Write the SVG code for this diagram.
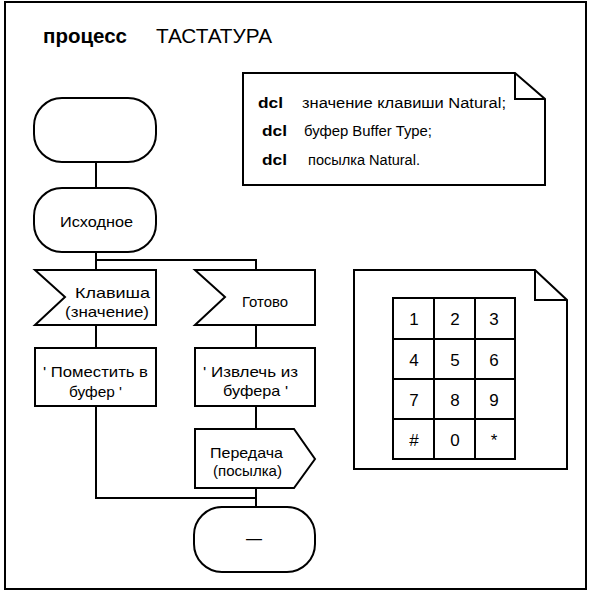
<svg xmlns="http://www.w3.org/2000/svg" width="591" height="593" viewBox="0 0 591 593">
<style>
.s{fill:#fff;stroke:#000;stroke-width:2;stroke-linejoin:miter}
.l{fill:none;stroke:#000;stroke-width:2}
text{font-family:"Liberation Sans",Arial,sans-serif;fill:#000}
.t{font-size:15px}
.d{font-size:14px}
.b{font-weight:bold}
.k{font-size:17px;text-anchor:middle}
</style>
<rect x="0" y="0" width="591" height="593" fill="#fff"/>
<rect x="5" y="2" width="581" height="587" class="l"/>
<g id="title">
<text x="43" y="43" font-size="20" font-weight="bold" textLength="84" lengthAdjust="spacingAndGlyphs">процесс</text>
<text x="156" y="43" font-size="20" textLength="116" lengthAdjust="spacingAndGlyphs">ТАСТАТУРА</text>
</g>
<g id="connectors">
<path class="l" d="M96,162 V188"/>
<path class="l" d="M96,252 V270 M96,260 H256 V270"/>
<path class="l" d="M96,325 V348"/>
<path class="l" d="M256,325 V348"/>
<path class="l" d="M96,406 V498 H256"/>
<path class="l" d="M256,406 V429"/>
<path class="l" d="M256,488 V507"/>
</g>
<g id="decl">
<path class="s" d="M243,73 H515 L545,99 V185 H243 Z"/>
<path class="l" d="M515,73 V99 H545"/>
<text class="d b" x="258" y="108" textLength="25" lengthAdjust="spacingAndGlyphs">dcl</text>
<text class="d" x="302" y="108" textLength="204" lengthAdjust="spacingAndGlyphs">значение клавиши Natural;</text>
<text class="d b" x="262" y="136" textLength="25" lengthAdjust="spacingAndGlyphs">dcl</text>
<text class="d" x="304" y="136" textLength="128" lengthAdjust="spacingAndGlyphs">буфер Buffer Type;</text>
<text class="d b" x="262" y="165" textLength="25" lengthAdjust="spacingAndGlyphs">dcl</text>
<text class="d" x="308" y="165" textLength="112" lengthAdjust="spacingAndGlyphs">посылка Natural.</text>
</g>
<g id="start">
<rect class="s" x="34" y="98" width="122" height="64" rx="28" ry="28"/>
</g>
<g id="state_initial">
<rect class="s" x="34" y="188" width="122" height="64" rx="28" ry="28"/>
<text class="t" x="60" y="227" textLength="73" lengthAdjust="spacingAndGlyphs">Исходное</text>
</g>
<g id="input_key">
<path class="s" d="M35,270 H156 V325 H35 L65,297 Z"/>
<text class="t" x="75" y="298" textLength="75" lengthAdjust="spacingAndGlyphs">Клавиша</text>
<text class="t" x="65" y="317" textLength="84" lengthAdjust="spacingAndGlyphs">(значение)</text>
</g>
<g id="input_ready">
<path class="s" d="M195,270 H315 V325 H195 L225,297 Z"/>
<text class="t" x="242" y="307" textLength="46" lengthAdjust="spacingAndGlyphs">Готово</text>
</g>
<g id="task_put">
<rect class="s" x="35" y="348" width="121" height="58"/>
<text class="t" x="43" y="377" textLength="105" lengthAdjust="spacingAndGlyphs">' Поместить в</text>
<text class="t" x="69" y="397" textLength="53" lengthAdjust="spacingAndGlyphs">буфер '</text>
</g>
<g id="task_get">
<rect class="s" x="195" y="348" width="120" height="58"/>
<text class="t" x="203" y="377" textLength="95" lengthAdjust="spacingAndGlyphs">' Извлечь из</text>
<text class="t" x="223" y="396" textLength="65" lengthAdjust="spacingAndGlyphs">буфера '</text>
</g>
<g id="output_send">
<path class="s" d="M195,429 H294 L315,459 L294,488 H195 Z"/>
<text class="t" x="210" y="458" textLength="73" lengthAdjust="spacingAndGlyphs">Передача</text>
<text class="t" x="213" y="476" textLength="69" lengthAdjust="spacingAndGlyphs">(посылка)</text>
</g>
<g id="end_state">
<rect class="s" x="194" y="507" width="121" height="65" rx="28" ry="28"/>
<text x="254" y="544" font-size="16" text-anchor="middle">—</text>
</g>
<g id="keypad">
<path class="s" d="M354,270 H535 L567,300 V469 H354 Z"/>
<path class="l" d="M535,270 V300 H567"/>
<rect class="l" x="393" y="298" width="122" height="161"/>
<path class="l" d="M434,298 V459 M475,298 V459 M393,339 H515 M393,379 H515 M393,419 H515"/>
<text class="k" x="414" y="325">1</text>
<text class="k" x="455" y="325">2</text>
<text class="k" x="494" y="325">3</text>
<text class="k" x="414" y="366">4</text>
<text class="k" x="455" y="366">5</text>
<text class="k" x="494" y="366">6</text>
<text class="k" x="414" y="406">7</text>
<text class="k" x="455" y="406">8</text>
<text class="k" x="494" y="406">9</text>
<text class="k" x="414" y="446">#</text>
<text class="k" x="455" y="446">0</text>
<text class="k" x="494" y="446">*</text>
</g>
</svg>
